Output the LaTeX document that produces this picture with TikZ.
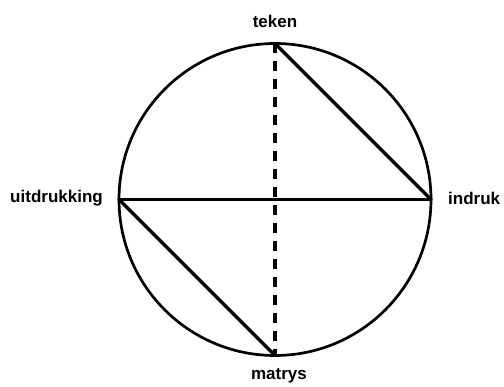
\documentclass[tikz,border=0pt]{standalone}
\usepackage{fontspec}
\setmainfont{Liberation Sans}
\begin{document}
\begin{tikzpicture}[x=1pt,y=-1pt,
  lbl/.style={font=\fontsize{17}{19}\selectfont\bfseries, inner sep=0pt},
  edge/.style={line width=3.2pt, line cap=round, line join=round},
  dashedge/.style={line width=3.2pt, dash pattern=on 10pt off 8pt}]
\useasboundingbox (0,0) rectangle (504,387);
\coordinate (c) at (275,199.5);
\draw[line width=2.7pt] (c) circle[radius=156];
\coordinate (T) at (275,43.5);
\coordinate (B) at (275,355.5);
\coordinate (L) at (119,199.5);
\coordinate (R) at (431,199.5);
\node[lbl] (teken) at (275,21) {teken};
\node[lbl, anchor=east] (uit) at (103,198) {uitdrukking};
\node[lbl, anchor=west] (indr) at (448,198) {indruk};
\node[lbl] (matrys) at (279,376) {matrys};
\draw[dashedge] (T) -- (B);
\draw[edge] (L) -- (R);
\draw[edge] (T) -- (R);
\draw[edge] (L) -- (B);
\end{tikzpicture}
\end{document}
